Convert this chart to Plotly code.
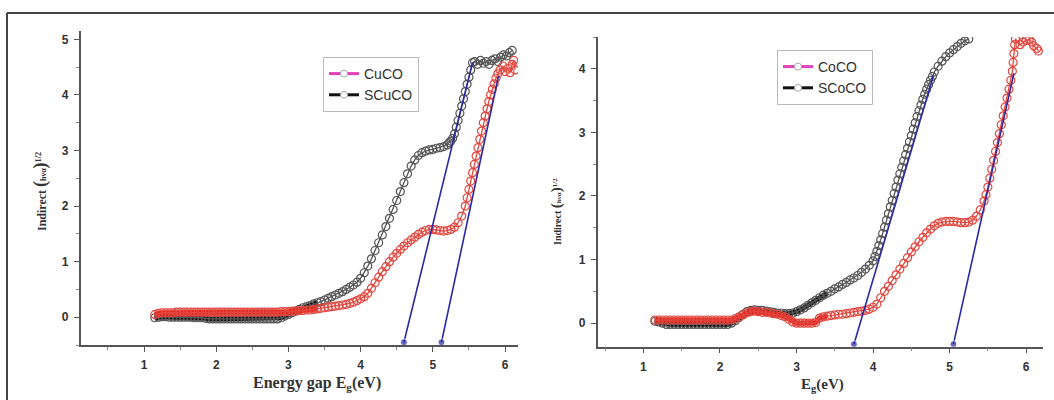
import plotly.graph_objects as go

# ---------------- data ----------------
# Left panel: CuCO / SCuCO
CUCO_E = [1.15,1.2,1.25,1.3,1.35,1.4,1.45,1.5,1.55,1.6,1.65,1.7,1.75,1.8,1.85,1.9,1.95,2.0,2.05,2.1,
          2.15,2.2,2.25,2.3,2.35,2.4,2.45,2.5,2.55,2.6,2.65,2.7,2.75,2.8,2.85,2.9,2.95,3.0,3.05,3.1,
          3.15,3.2,3.25,3.3,3.35,3.4,3.45,3.5,3.55,3.6,3.65,3.7,3.75,3.8,3.85,3.9,3.95,4.0,4.05,4.1,
          4.15,4.2,4.25,4.3,4.35,4.4,4.45,4.5,4.55,4.6,4.65,4.7,4.75,4.8,4.85,4.9,4.95,5.0,5.05,5.1,
          5.15,5.2,5.25,5.3,5.35,5.4,5.45,5.475,5.5,5.525,5.55,5.575,5.6,5.625,5.65,5.675,5.7,5.725,
          5.75,5.775,5.8,5.825,5.85,5.875,5.9,5.93,5.97,6.0,6.04,6.07,6.1,6.12,6.14]
CUCO_Y = [0.05,0.07,0.08,0.08,0.08,0.08,0.09,0.09,0.09,0.09,0.09,0.09,0.09,0.09,0.09,0.09,0.09,0.09,0.09,0.09,
          0.09,0.09,0.09,0.09,0.09,0.09,0.09,0.09,0.09,0.09,0.09,0.09,0.09,0.09,0.09,0.10,0.10,0.10,0.11,0.11,
          0.12,0.12,0.13,0.13,0.14,0.15,0.16,0.17,0.18,0.19,0.20,0.21,0.22,0.23,0.25,0.27,0.30,0.33,0.37,0.43,
          0.52,0.62,0.72,0.82,0.91,1.00,1.08,1.15,1.22,1.28,1.34,1.39,1.44,1.49,1.53,1.56,1.58,1.58,1.57,1.56,
          1.55,1.56,1.58,1.62,1.70,1.82,2.00,2.15,2.30,2.45,2.60,2.75,2.90,3.05,3.20,3.35,3.50,3.62,
          3.75,3.88,4.00,4.10,4.20,4.30,4.38,4.45,4.52,4.42,4.48,4.40,4.55,4.62,4.45]

SCUCO_E = [1.15,1.2,1.25,1.3,1.35,1.4,1.45,1.5,1.55,1.6,1.65,1.7,1.75,1.8,1.85,1.9,1.95,2.0,2.05,2.1,
           2.15,2.2,2.25,2.3,2.35,2.4,2.45,2.5,2.55,2.6,2.65,2.7,2.75,2.8,2.85,2.9,2.95,3.0,3.05,3.1,
           3.15,3.2,3.25,3.3,3.35,3.4,3.45,3.5,3.55,3.6,3.65,3.7,3.75,3.8,3.85,3.9,3.95,4.0,4.05,4.1,
           4.15,4.2,4.25,4.3,4.35,4.4,4.45,4.5,4.55,4.6,4.65,4.7,4.75,4.8,4.85,4.9,4.95,5.0,5.05,5.1,
           5.15,5.2,5.225,5.25,5.275,5.3,5.325,5.35,5.375,5.4,5.425,5.45,5.475,5.5,5.525,5.55,
           5.58,5.62,5.66,5.7,5.74,5.78,5.82,5.86,5.9,5.94,5.98,6.02,6.06,6.1]
SCUCO_Y = [-0.01,0.0,0.01,0.01,0.0,0.0,0.0,0.0,0.0,0.0,0.0,-0.01,-0.01,-0.01,-0.02,-0.03,-0.03,-0.03,-0.03,-0.03,
           -0.03,-0.03,-0.03,-0.03,-0.03,-0.03,-0.03,-0.03,-0.03,-0.03,-0.03,-0.03,-0.03,-0.03,-0.03,-0.01,0.02,0.05,0.08,0.11,
           0.14,0.17,0.19,0.21,0.24,0.26,0.28,0.31,0.34,0.37,0.40,0.43,0.46,0.50,0.54,0.58,0.63,0.70,0.80,0.92,
           1.05,1.20,1.34,1.48,1.63,1.78,1.94,2.10,2.26,2.42,2.58,2.72,2.83,2.91,2.96,2.99,3.01,3.02,3.04,3.05,
           3.07,3.10,3.14,3.17,3.22,3.30,3.42,3.54,3.67,3.80,3.93,4.06,4.19,4.32,4.45,4.58,
           4.60,4.55,4.62,4.57,4.60,4.55,4.62,4.65,4.60,4.68,4.72,4.70,4.76,4.80]

FIT_CU1_E = [4.60, 5.55]
FIT_CU1_Y = [-0.45, 4.58]
FIT_CU2_E = [5.12, 5.91]
FIT_CU2_Y = [-0.45, 4.34]

# Right panel: CoCO / SCoCO
COCO_E = [1.15,1.2,1.25,1.3,1.35,1.4,1.45,1.5,1.55,1.6,1.65,1.7,1.75,1.8,1.85,1.9,1.95,2.0,2.05,2.1,
          2.15,2.2,2.25,2.3,2.35,2.4,2.45,2.5,2.55,2.6,2.65,2.7,2.75,2.8,2.85,2.9,2.95,3.0,3.05,3.1,
          3.15,3.2,3.25,3.3,3.35,3.4,3.45,3.5,3.55,3.6,3.65,3.7,3.75,3.8,3.85,3.9,3.95,4.0,4.05,4.1,
          4.15,4.2,4.25,4.3,4.35,4.4,4.45,4.5,4.55,4.6,4.65,4.7,4.75,4.8,4.85,4.9,4.95,5.0,5.05,5.1,
          5.15,5.2,5.25,5.3,5.35,5.4,5.45,5.475,5.5,5.525,5.55,5.575,5.6,5.625,5.65,5.675,5.7,5.725,
          5.75,5.775,5.8,5.82,5.83,5.84,5.85,5.86,5.92,5.96,6.0,6.04,6.07,6.1,6.14,6.16]
COCO_Y = [0.05,0.05,0.05,0.05,0.05,0.05,0.05,0.05,0.05,0.05,0.05,0.05,0.05,0.05,0.05,0.05,0.05,0.05,0.05,0.05,
          0.05,0.07,0.10,0.13,0.16,0.18,0.19,0.18,0.17,0.17,0.16,0.15,0.14,0.12,0.10,0.06,0.02,0.00,0.00,0.00,
          0.00,0.00,0.01,0.08,0.10,0.11,0.12,0.13,0.14,0.14,0.15,0.16,0.17,0.18,0.19,0.20,0.22,0.25,0.30,0.40,
          0.50,0.58,0.67,0.76,0.85,0.94,1.03,1.12,1.20,1.28,1.35,1.42,1.48,1.53,1.57,1.59,1.60,1.60,1.60,1.59,
          1.58,1.58,1.59,1.62,1.68,1.78,1.92,2.02,2.14,2.28,2.42,2.56,2.70,2.84,2.98,3.12,3.26,3.40,
          3.54,3.68,3.82,3.96,4.10,4.24,4.38,4.47,4.38,4.42,4.45,4.46,4.42,4.36,4.32,4.28]

SCOCO_E = [1.15,1.2,1.25,1.3,1.35,1.4,1.45,1.5,1.55,1.6,1.65,1.7,1.75,1.8,1.85,1.9,1.95,2.0,2.05,2.1,
           2.15,2.2,2.25,2.3,2.35,2.4,2.45,2.5,2.55,2.6,2.65,2.7,2.75,2.8,2.85,2.9,2.95,3.0,3.05,3.1,
           3.15,3.2,3.25,3.3,3.35,3.4,3.45,3.5,3.55,3.6,3.65,3.7,3.75,3.8,3.85,3.9,3.95,4.0,4.025,4.05,
           4.075,4.1,4.125,4.15,4.175,4.2,4.225,4.25,4.275,4.3,4.325,4.35,4.375,4.4,4.425,4.45,4.475,4.5,
           4.525,4.55,4.575,4.6,4.625,4.65,4.675,4.7,4.725,4.75,4.775,4.8,4.85,4.9,4.95,5.0,5.05,5.1,
           5.15,5.2,5.25]
SCOCO_Y = [0.03,0.02,0.0,-0.02,-0.02,-0.02,-0.02,-0.02,-0.02,-0.02,-0.02,-0.02,-0.02,-0.02,-0.02,-0.02,-0.02,-0.02,-0.02,-0.02,
           0.0,0.04,0.09,0.14,0.18,0.20,0.21,0.20,0.20,0.19,0.18,0.17,0.16,0.16,0.15,0.15,0.16,0.18,0.21,0.24,
           0.28,0.32,0.36,0.40,0.44,0.47,0.50,0.54,0.57,0.61,0.64,0.68,0.71,0.75,0.80,0.85,0.91,0.98,1.05,1.13,
           1.22,1.31,1.41,1.51,1.62,1.72,1.83,1.93,2.04,2.14,2.25,2.35,2.45,2.55,2.65,2.75,2.85,2.95,
           3.05,3.15,3.25,3.34,3.43,3.52,3.60,3.68,3.75,3.82,3.88,3.95,4.04,4.12,4.19,4.25,4.30,4.35,
           4.40,4.44,4.47]

FIT_CO1_E = [3.75, 4.79]
FIT_CO1_Y = [-0.33, 3.90]
FIT_CO2_E = [5.05, 5.84]
FIT_CO2_Y = [-0.33, 3.93]

X_TICKS = [1, 2, 3, 4, 5, 6]
Y_TICKS_L = [0, 1, 2, 3, 4, 5]
Y_TICKS_R = [0, 1, 2, 3, 4]

# energy below which the measured points are so dense they merge into a solid band
BAND_MAX_E = 3.4

# ---------------- styling ----------------
W, H = 1054, 400
RED = "#e4261f"
RED_PT = "#e2473f"
DARK = "#111111"
DARK_PT = "#555555"
BLUE = "#2a2aa8"
AXC = "#555555"
SANS = "Liberation Sans, Arial, sans-serif"
SERIF = "Liberation Serif, Times New Roman, serif"


def px(x):
    return x / W


def py(y):
    return (H - y) / H


fig = go.Figure()


def band_trace(xs, ys, color, xa, ya):
    bx = [x for x in xs if x <= BAND_MAX_E]
    by = [y for x, y in zip(xs, ys) if x <= BAND_MAX_E]
    return go.Scatter(x=bx, y=by, xaxis=xa, yaxis=ya, mode="lines", showlegend=False,
                      line=dict(color=color, width=5), hoverinfo="skip")


def data_trace(xs, ys, color, xa, ya):
    return go.Scatter(
        x=xs, y=ys, xaxis=xa, yaxis=ya, mode="lines+markers", showlegend=False,
        line=dict(color=color, width=1.3),
        marker=dict(symbol="circle-open", size=8, color=color, line=dict(width=1.2, color=color)),
        hoverinfo="skip",
    )


def fit_trace(xs, ys, xa, ya):
    return go.Scatter(
        x=xs, y=ys, xaxis=xa, yaxis=ya, mode="lines+markers", showlegend=False,
        line=dict(color=BLUE, width=1.6),
        marker=dict(symbol="circle", size=[7, 0], color=BLUE),
        hoverinfo="skip",
    )


def legend_trace(name, color, legend):
    return go.Scatter(
        x=[None], y=[None], name=name, mode="lines+markers", legend=legend,
        line=dict(color=color, width=3),
        marker=dict(symbol="circle", size=7, color="white", line=dict(color="#aaaaaa", width=1)),
    )


# left panel
fig.add_trace(band_trace(SCUCO_E, SCUCO_Y, DARK, "x", "y"))
fig.add_trace(data_trace(SCUCO_E, SCUCO_Y, DARK_PT, "x", "y"))
fig.add_trace(band_trace(CUCO_E, CUCO_Y, RED, "x", "y"))
fig.add_trace(data_trace(CUCO_E, CUCO_Y, RED_PT, "x", "y"))
fig.add_trace(fit_trace(FIT_CU1_E, FIT_CU1_Y, "x", "y"))
fig.add_trace(fit_trace(FIT_CU2_E, FIT_CU2_Y, "x", "y"))
fig.add_trace(legend_trace("CuCO", "#e040b8", "legend"))
fig.add_trace(legend_trace("SCuCO", "#111111", "legend"))

# right panel
fig.add_trace(band_trace(SCOCO_E, SCOCO_Y, DARK, "x2", "y2"))
fig.add_trace(data_trace(SCOCO_E, SCOCO_Y, DARK_PT, "x2", "y2"))
fig.add_trace(band_trace(COCO_E, COCO_Y, RED, "x2", "y2"))
fig.add_trace(data_trace(COCO_E, COCO_Y, RED_PT, "x2", "y2"))
fig.add_trace(fit_trace(FIT_CO1_E, FIT_CO1_Y, "x2", "y2"))
fig.add_trace(fit_trace(FIT_CO2_E, FIT_CO2_Y, "x2", "y2"))
fig.add_trace(legend_trace("CoCO", "#e040b8", "legend2"))
fig.add_trace(legend_trace("SCoCO", "#111111", "legend2"))

axis_common = dict(
    showline=True, linecolor=AXC, linewidth=1.5, mirror=False, showgrid=False, zeroline=False,
    ticks="outside", ticklen=5, tickwidth=1, tickcolor=AXC,
    tickfont=dict(family=SANS, size=12, color="#333333", weight="bold"),
    minor=dict(ticks="outside", ticklen=3, tickwidth=1, tickcolor="#888888", dtick=0.5, showgrid=False),
    ticklabelstandoff=3,
)

fig.update_layout(
    width=W, height=H, margin=dict(l=0, r=0, t=0, b=0),
    paper_bgcolor="white", plot_bgcolor="white",
    xaxis=dict(axis_common, domain=[px(80.5), px(518)], range=[0.12, 6.18], anchor="y",
               tickmode="array", tickvals=X_TICKS),
    yaxis=dict(axis_common, domain=[py(345), py(31)], range=[-0.5, 5.15], anchor="x",
               tickmode="array", tickvals=Y_TICKS_L),
    xaxis2=dict(axis_common, domain=[px(597.5), px(1043)], range=[0.4, 6.22], anchor="y2",
                tickmode="array", tickvals=X_TICKS),
    yaxis2=dict(axis_common, domain=[py(346.7), py(37)], range=[-0.37, 4.5], anchor="x2",
                tickmode="array", tickvals=Y_TICKS_R),
    legend=dict(x=px(323), y=py(57), xanchor="left", yanchor="top", bgcolor="white",
                bordercolor="#bbbbbb", borderwidth=1,
                font=dict(family=SANS, size=14, color="#333333"), tracegroupgap=0),
    legend2=dict(x=px(777), y=py(50), xanchor="left", yanchor="top", bgcolor="white",
                 bordercolor="#bbbbbb", borderwidth=1,
                 font=dict(family=SANS, size=14, color="#333333"), tracegroupgap=0),
    showlegend=True,
)

YT_L = ("<b>Indirect <span style='font-size:18px'>(</span><span style='font-size:8px'>hνα</span>"
        "<span style='font-size:18px'>)</span><sup>1/2</sup></b>")
YT_R = ("<b>Indirect <span style='font-size:15px'>(</span><span style='font-size:7px'>hνα</span>"
        "<span style='font-size:15px'>)</span><sup>1/2</sup></b>")

annos = [
    dict(text="<b>Energy gap E<sub>g</sub>(eV)</b>", x=px(317), y=py(383), size=16, angle=0),
    dict(text="<b>E<sub>g</sub>(eV)</b>", x=px(822), y=py(385), size=15, angle=0),
    dict(text=YT_L, x=px(40), y=py(192), size=12, angle=-90),
    dict(text=YT_R, x=px(556), y=py(212), size=10, angle=-90),
]
for a in annos:
    fig.add_annotation(text=a["text"], x=a["x"], y=a["y"], xref="paper", yref="paper",
                       showarrow=False, textangle=a["angle"], xanchor="center", yanchor="middle",
                       font=dict(family=SERIF, size=a["size"], color="#333333"))

# outer frame (top and left edges of the cropped figure border)
fig.add_shape(type="line", xref="paper", yref="paper", x0=px(7), y0=py(13), x1=1, y1=py(13),
              line=dict(color="#444444", width=2))
fig.add_shape(type="line", xref="paper", yref="paper", x0=px(7), y0=py(13), x1=px(7), y1=0,
              line=dict(color="#444444", width=2))

fig.write_html("out.html", config={"displayModeBar": False},
               post_script="document.body.style.margin='0px';")
